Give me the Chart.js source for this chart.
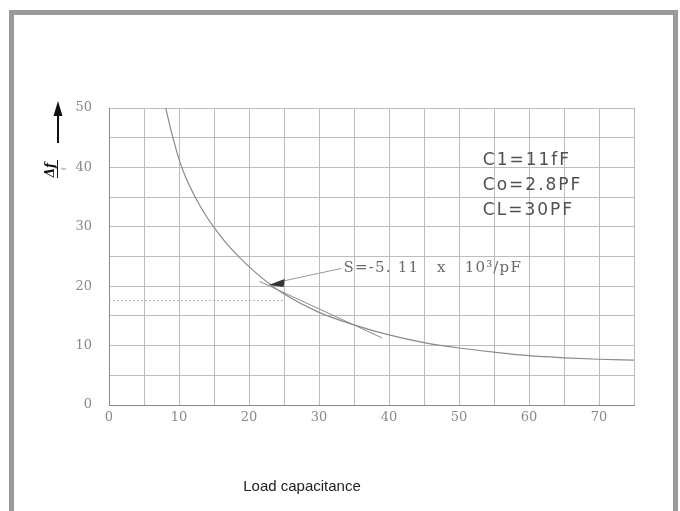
<!DOCTYPE html>
<html>
<head>
<meta charset="utf-8">
<script src="https://cdn.jsdelivr.net/npm/chart.js@4.4.1/dist/chart.umd.min.js"></script>
<style>
  html, body { margin: 0; padding: 0; background: #fff; width: 680px; height: 511px; overflow: hidden; }
  #frame { position: absolute; left: 9px; top: 10px; width: 659px; height: 520px; border: 5px solid #9a9a9a; border-bottom: none; }
  #wrap { position: absolute; left: 0; top: 0; width: 680px; height: 511px; }
</style>
</head>
<body>
<div id="frame"></div>
<div id="wrap"><canvas id="c" width="680" height="511"></canvas></div>
<script>
// ---- data ----
const loadCap = [8.1, 9, 10, 11, 12.4, 14, 15, 17, 18.6, 20, 22.7, 25, 30, 35, 40, 45, 50, 55, 60, 65, 70, 75];
const deltaF  = [50, 45.6, 41.4, 38.2, 34.8, 31.6, 29.9, 26.9, 24.9, 23.3, 20.6, 18.7, 15.6, 13.5, 11.8, 10.5, 9.6, 8.9, 8.3, 7.95, 7.7, 7.55];
const tangentX = [21.5, 39];
const tangentY = [20.8, 11.3];
const refLineX = [0, 25];
const refLineY = [17.6, 17.6];
const xTickLabels = [0, 10, 20, 30, 40, 50, 60, 70];
const yTickLabels = [0, 10, 20, 30, 40, 50];
const paramLines = ['C1=11fF', 'Co=2.8PF', 'CL=30PF'];
const slopeText = 'S=-5. 11   x   10\u00B3/pF';
const xTitle = 'Load capacitance';

const toPts = (xs, ys) => xs.map((x, i) => ({x: x, y: ys[i]}));

const annot = {
  id: 'annot',
  afterDatasetsDraw(chart) {
    const ctx = chart.ctx, xs = chart.scales.x, ys = chart.scales.y;
    ctx.save();
    // parameter text
    ctx.fillStyle = '#505050';
    ctx.font = '17px "DejaVu Sans"';
    ctx.letterSpacing = '2px';
    ctx.textBaseline = 'middle';
    ctx.textAlign = 'left';
    const px = xs.getPixelForValue(53.4);
    [41.2, 37.0, 32.8].forEach((v, i) => ctx.fillText(paramLines[i], px, ys.getPixelForValue(v)));
    // slope annotation
    ctx.fillStyle = '#6a6a6a';
    ctx.font = '15px "DejaVu Serif"';
    ctx.letterSpacing = '1.2px';
    const tx = xs.getPixelForValue(33.5), ty = ys.getPixelForValue(23.0);
    ctx.fillText(slopeText, tx, ty);
    ctx.letterSpacing = '0px';
    // arrow line
    const ax = xs.getPixelForValue(22.8), ay = ys.getPixelForValue(20.2);
    ctx.strokeStyle = '#999';
    ctx.lineWidth = 1;
    ctx.beginPath();
    ctx.moveTo(tx - 2, ty);
    ctx.lineTo(ax + 10, ay - 3);
    ctx.stroke();
    // arrowhead
    ctx.fillStyle = '#333';
    ctx.beginPath();
    ctx.moveTo(ax, ay);
    ctx.lineTo(ax + 16, ay - 6);
    ctx.lineTo(ax + 15, ay + 2);
    ctx.closePath();
    ctx.fill();
    // y axis label: arrow + rotated Δf/f
    ctx.strokeStyle = '#111';
    ctx.fillStyle = '#111';
    ctx.lineWidth = 2;
    ctx.beginPath();
    ctx.moveTo(58, 143);
    ctx.lineTo(58, 112);
    ctx.stroke();
    ctx.beginPath();
    ctx.moveTo(58, 101);
    ctx.lineTo(53.5, 116);
    ctx.lineTo(62.5, 116);
    ctx.closePath();
    ctx.fill();
    ctx.save();
    ctx.translate(51, 170);
    ctx.rotate(-Math.PI / 2);
    ctx.font = 'bold italic 12px "DejaVu Serif"';
    ctx.textAlign = 'center';
    ctx.fillText('\u0394f', 0, 0);
    ctx.restore();
    ctx.lineWidth = 1;
    ctx.beginPath();
    ctx.moveTo(57.5, 160);
    ctx.lineTo(57.5, 178);
    ctx.stroke();
    ctx.save();
    ctx.translate(64, 169);
    ctx.rotate(-Math.PI / 2);
    ctx.font = '6px "DejaVu Serif"';
    ctx.textAlign = 'center';
    ctx.fillStyle = '#666';
    ctx.fillText('f', 0, 0);
    ctx.restore();
    // x title
    ctx.fillStyle = '#222';
    ctx.font = '15px "Liberation Sans"';
    ctx.textAlign = 'center';
    ctx.fillText(xTitle, 302, 487);
    ctx.restore();
  }
};

new Chart(document.getElementById('c'), {
  type: 'scatter',
  data: {
    datasets: [
      { data: toPts(loadCap, deltaF), showLine: true, borderColor: '#8a8a8a', borderWidth: 1.2, pointRadius: 0, cubicInterpolationMode: 'monotone', fill: false },
      { data: toPts(tangentX, tangentY), showLine: true, borderColor: '#8a8a8a', borderWidth: 1, pointRadius: 0, fill: false },
      { data: toPts(refLineX, refLineY), showLine: true, borderColor: '#b5b5b5', borderWidth: 1, borderDash: [2, 2], pointRadius: 0, fill: false }
    ]
  },
  options: {
    responsive: false,
    animation: false,
    layout: { padding: { left: 0, top: 108, right: 46, bottom: 0 } },
    plugins: { legend: { display: false }, tooltip: { enabled: false } },
    scales: {
      x: {
        type: 'linear', min: 0, max: 75,
        afterFit: s => { s.height = 106; },
        ticks: {
          stepSize: 5, padding: 5, color: '#8a8a8a',
          font: { family: 'DejaVu Serif', size: 13 },
          callback: v => xTickLabels.includes(v) ? String(v) : ''
        },
        grid: { drawTicks: false, color: ctx => ctx.tick && ctx.tick.value === 0 ? '#888' : '#bdbdbd', lineWidth: 1 },
        border: { color: '#888' }
      },
      y: {
        type: 'linear', min: 0, max: 50,
        afterFit: s => { s.width = 109; },
        ticks: {
          stepSize: 5, padding: 17, color: '#8a8a8a',
          font: { family: 'DejaVu Serif', size: 13 },
          callback: v => yTickLabels.includes(v) ? String(v) : ''
        },
        grid: { drawTicks: false, color: ctx => ctx.tick && ctx.tick.value === 0 ? '#888' : '#bdbdbd', lineWidth: 1 },
        border: { color: '#888' }
      }
    }
  },
  plugins: [annot]
});
</script>
</body>
</html>
